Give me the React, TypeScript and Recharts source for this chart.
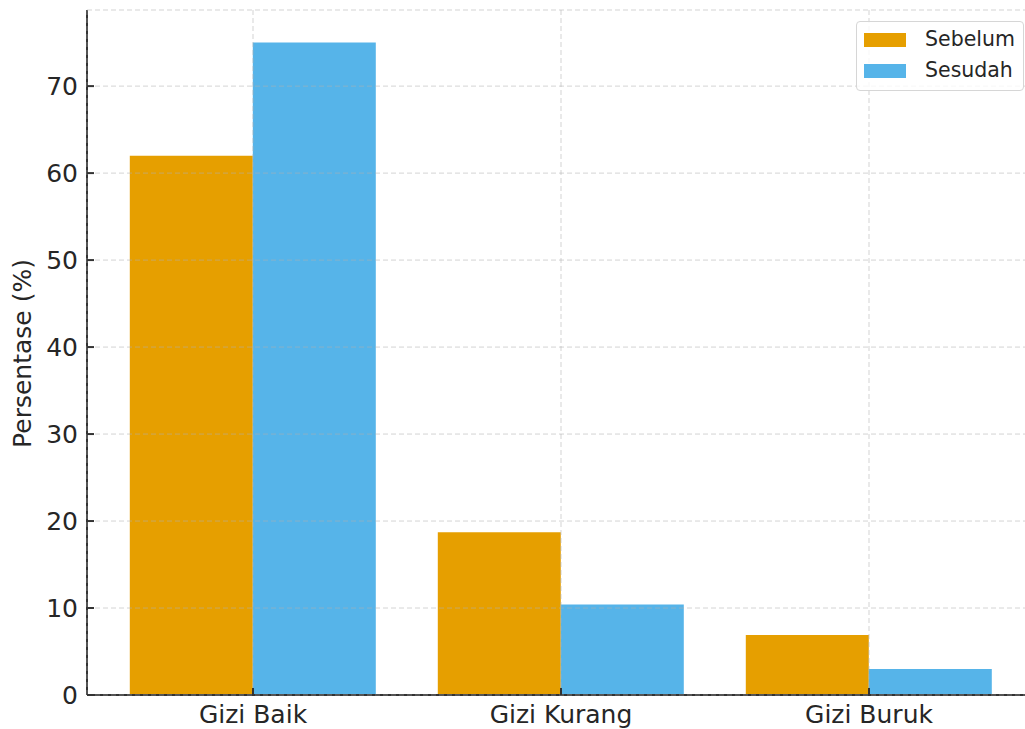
import React from 'react';
import { BarChart, Bar, XAxis, YAxis, CartesianGrid, Legend } from 'recharts';

const categories = ['Gizi Baik', 'Gizi Kurang', 'Gizi Buruk'];
const sebelum = [62, 18.7, 6.9];
const sesudah = [75, 10.4, 3.0];
const yTicks = [0, 10, 20, 30, 40, 50, 60, 70];

const SEBELUM_COLOR = '#E69F00';
const SESUDAH_COLOR = '#56B4E9';
const AXIS_COLOR = '#333333';
const TEXT_COLOR = '#262626';
const FONT = '"DejaVu Sans", sans-serif';

const data = categories.map((name, i) => ({
  name,
  Sebelum: sebelum[i],
  Sesudah: sesudah[i]
}));

const YTick = (props: any) => {
  const { x, y, payload } = props;
  return (
    <g>
      <line x1={x} x2={x + 7} y1={y} y2={y} stroke={AXIS_COLOR} strokeWidth={2} />
      <text x={x - 9} y={y + 9} textAnchor="end" fontSize={25} fill={TEXT_COLOR} fontFamily={FONT}>
        {payload.value}
      </text>
    </g>
  );
};

const XTick = (props: any) => {
  const { x, y, payload } = props;
  return (
    <g>
      <line x1={x} x2={x} y1={y} y2={y - 7} stroke={AXIS_COLOR} strokeWidth={2} />
      <text x={x} y={y + 28} textAnchor="middle" fontSize={25} fill={TEXT_COLOR} fontFamily={FONT}>
        {payload.value}
      </text>
    </g>
  );
};

const YLabel = (props: any) => {
  const vb = props.viewBox || { y: 10, height: 685 };
  const cy = vb.y + vb.height / 2 + 1;
  return (
    <text
      x={31}
      y={cy}
      transform={`rotate(-90, 31, ${cy})`}
      textAnchor="middle"
      fontSize={25}
      fill={TEXT_COLOR}
      fontFamily={FONT}
    >
      Persentase (%)
    </text>
  );
};

const LegendBox = () => {
  const items = [
    { label: 'Sebelum', color: SEBELUM_COLOR },
    { label: 'Sesudah', color: SESUDAH_COLOR }
  ];
  return (
    <div
      style={{
        border: '1.5px solid #d6d6d6',
        borderRadius: 4,
        background: 'rgba(255,255,255,0.8)',
        padding: '2px 0 0 7px',
        boxSizing: 'border-box',
        width: 168,
        height: 70,
        fontFamily: FONT,
        fontSize: 20.5,
        color: TEXT_COLOR
      }}
    >
      {items.map(it => (
        <div key={it.label} style={{ display: 'flex', alignItems: 'center', height: 31 }}>
          <span style={{ display: 'inline-block', width: 42, height: 14, background: it.color }} />
          <span style={{ marginLeft: 19, lineHeight: '31px' }}>{it.label}</span>
        </div>
      ))}
    </div>
  );
};

export default function App() {
  return (
    <div
      style={{
        position: 'fixed',
        left: 0,
        top: 0,
        width: 1025,
        height: 729,
        overflow: 'hidden',
        background: '#fff'
      }}
    >
      <BarChart
        width={1045}
        height={729}
        data={data}
        margin={{ top: 10, right: 10, left: 0, bottom: 0 }}
        barCategoryGap="10%"
        barGap={0}
      >
        <XAxis
          dataKey="name"
          height={34}
          padding={{ left: 12, right: 12 }}
          axisLine={{ stroke: AXIS_COLOR, strokeWidth: 2 }}
          tickLine={false}
          tickSize={0}
          tickMargin={0}
          tick={<XTick />}
          interval={0}
        />
        <YAxis
          width={87}
          domain={[0, 78.75]}
          ticks={yTicks}
          axisLine={{ stroke: AXIS_COLOR, strokeWidth: 2 }}
          tickLine={false}
          tickSize={0}
          tickMargin={0}
          tick={<YTick />}
          label={<YLabel />}
        />
        <Bar dataKey="Sebelum" fill={SEBELUM_COLOR} isAnimationActive={false} />
        <Bar dataKey="Sesudah" fill={SESUDAH_COLOR} isAnimationActive={false} />
        <CartesianGrid
          stroke="#b0b0b0"
          strokeOpacity={0.55}
          strokeDasharray="5 3"
          zIndex={500}
        />
        <Legend
          layout="vertical"
          align="center"
          verticalAlign="middle"
          content={<LegendBox />}
          wrapperStyle={{ position: 'absolute', left: 856, top: 21, width: 168, height: 70 }}
        />
      </BarChart>
    </div>
  );
}
